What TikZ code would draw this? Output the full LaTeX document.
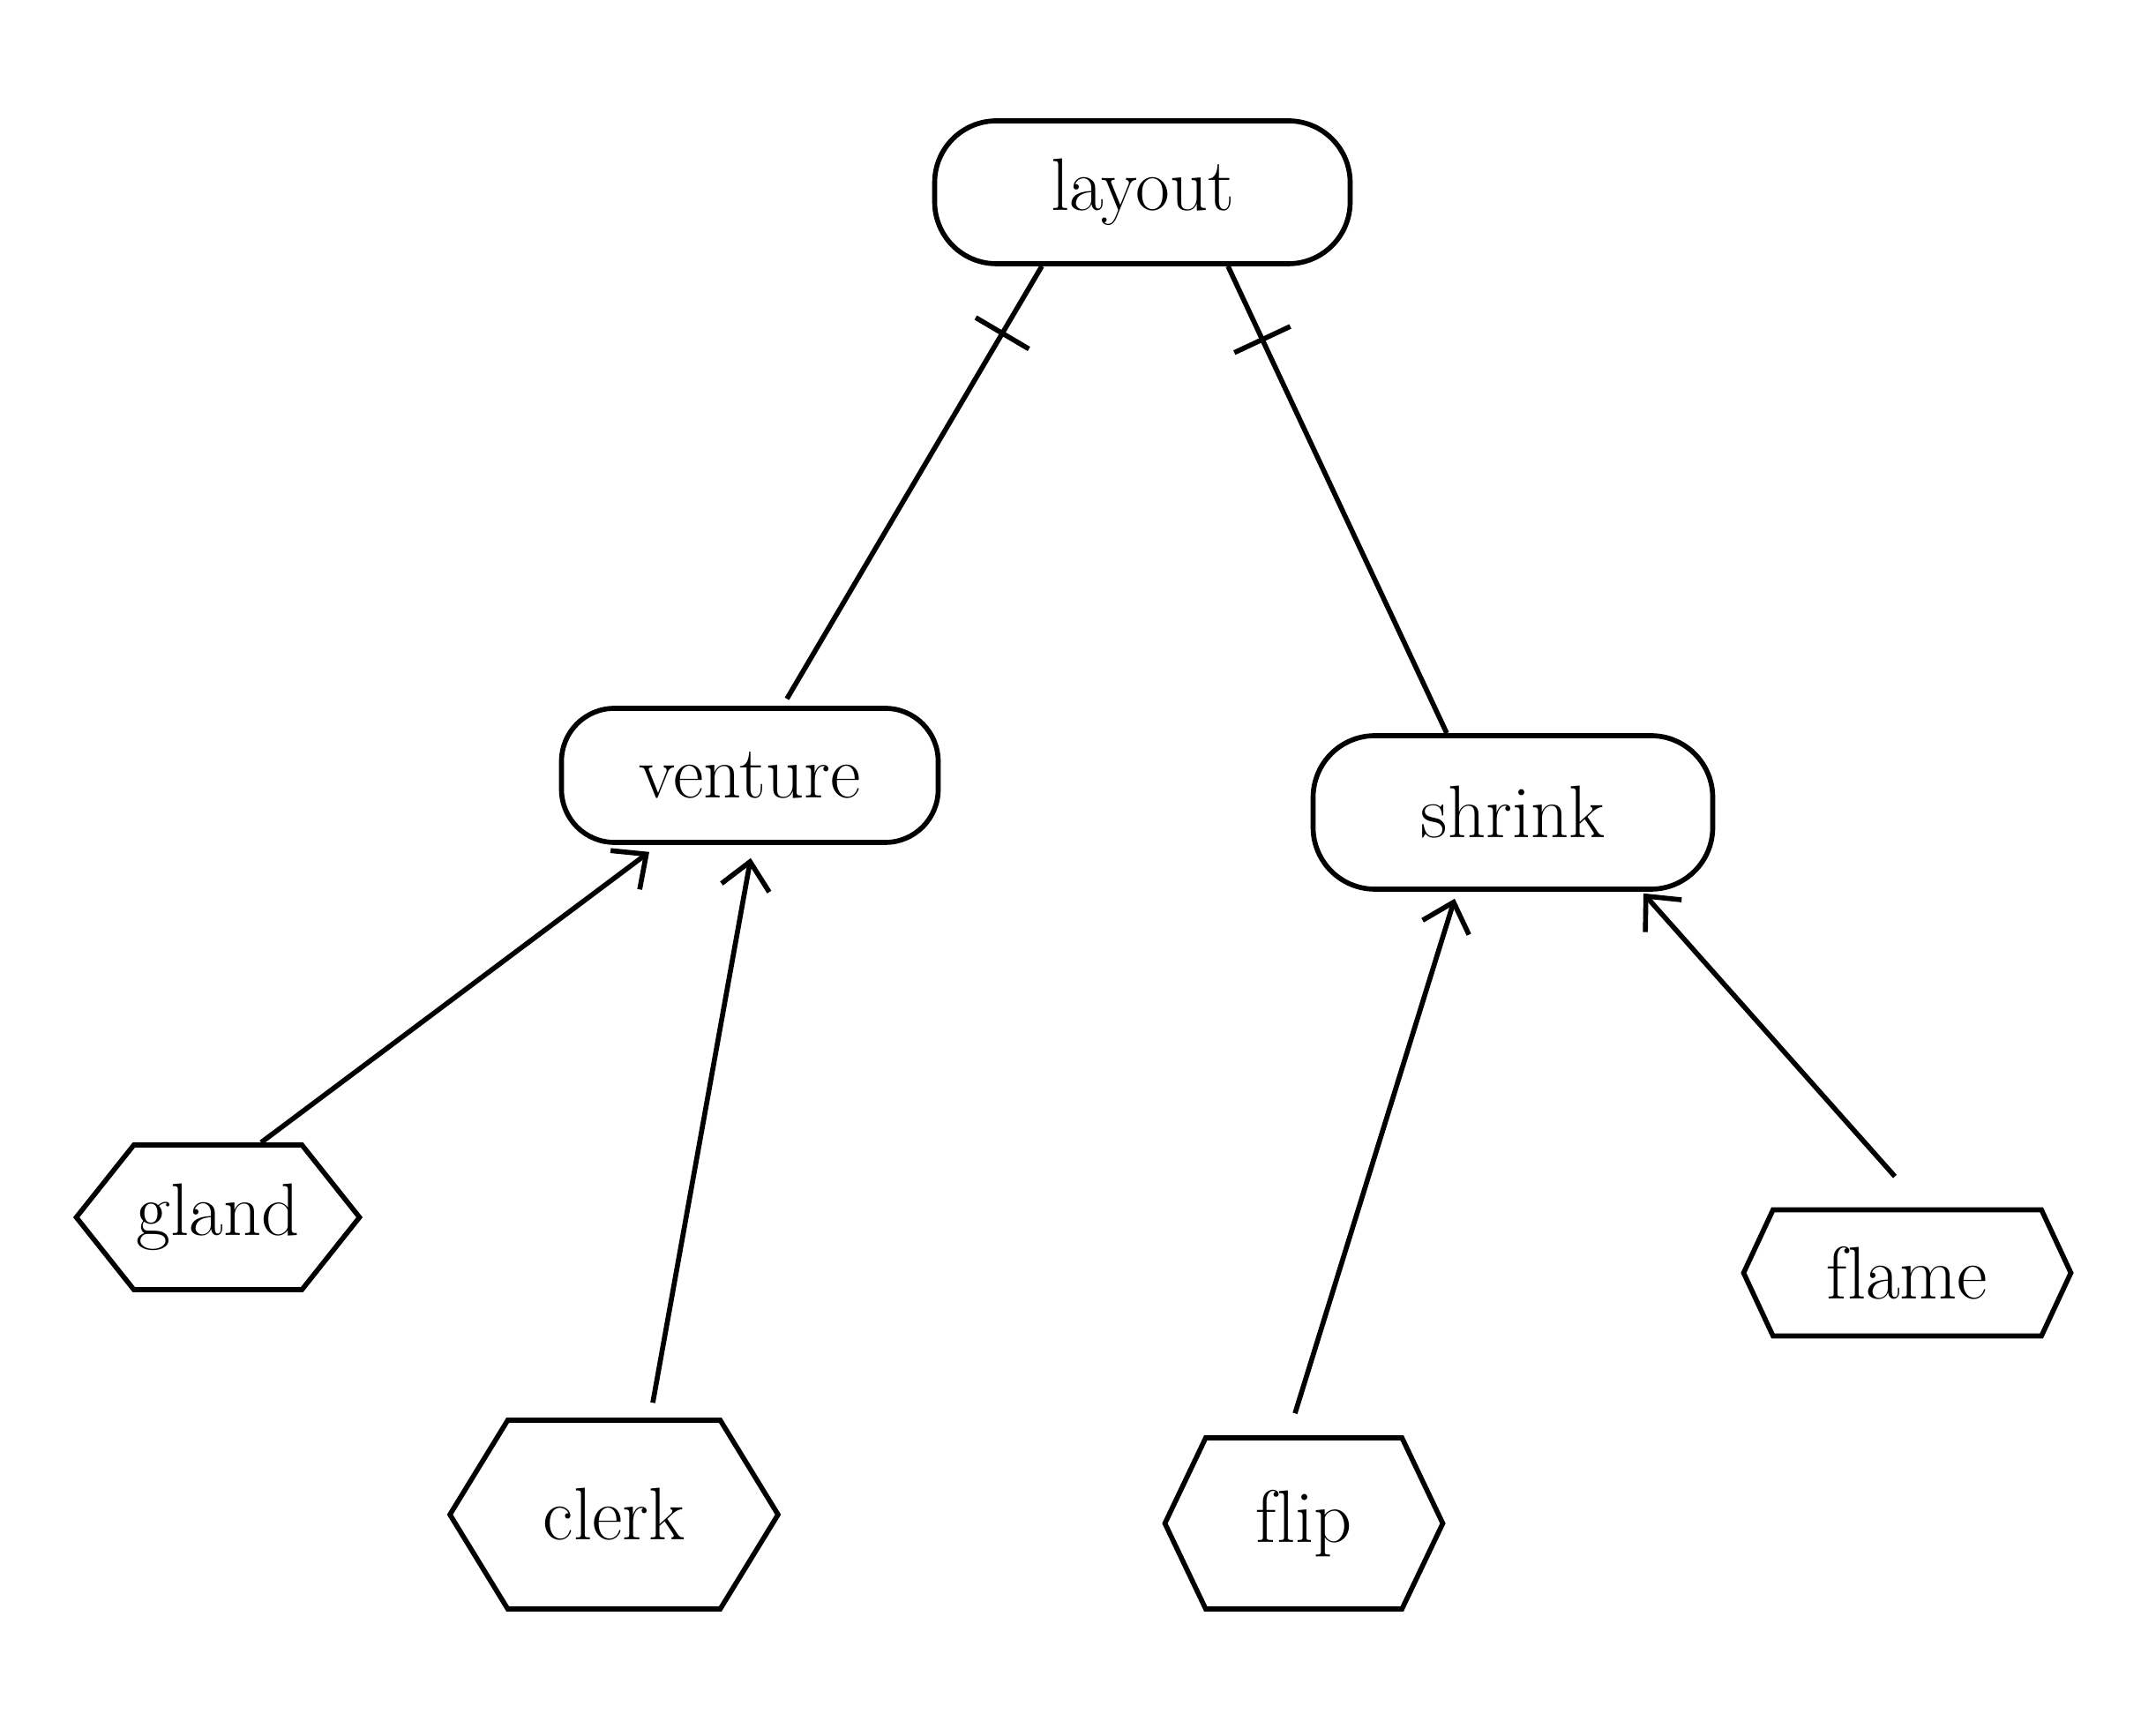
\documentclass[tikz,border=0pt]{standalone}
\usepackage{tikz}
\usetikzlibrary{shapes.symbols,arrows.meta}

\begin{document}
\begin{tikzpicture}[
  line width=1.6pt,
  box/.style={rectangle, draw, rounded corners=0.7cm, font=\fontsize{24}{28}\selectfont},
  hexa/.style={signal, signal to=east and west, draw, inner sep=0pt, font=\fontsize{24}{28}\selectfont},
  arrow/.style={-{Straight Barb[length=0.3cm, width=0.55cm]}},
  bar/.style={sloped, draw, minimum width=0pt, minimum height=0.7cm, inner sep=0pt}
]
  \useasboundingbox (0,0) rectangle (24.44,19.68);

  % rounded terms
  \node (layout) [box, minimum width=4.71cm, minimum height=1.62cm] at (12.95,17.50) {layout};
  \node (venture) [box, rounded corners=0.6cm, minimum width=4.27cm, minimum height=1.52cm] at (8.50,10.89) {venture};
  \node (shrink) [box, minimum width=4.53cm, minimum height=1.74cm] at (17.15,10.47) {shrink};

  % hexagon leaves
  \node (gland) [hexa, signal pointer angle=103, minimum width=3.21cm, minimum height=1.64cm] at (2.47,5.88) {gland};
  \node (clerk) [hexa, signal pointer angle=117, minimum width=3.72cm, minimum height=2.14cm] at (6.96,2.51) {clerk};
  \node (flip) [hexa, signal pointer angle=129, minimum width=3.15cm, minimum height=1.94cm] at (14.78,2.41) {f\kern0pt lip};
  \node (flame) [hexa, signal pointer angle=130, minimum width=3.71cm, minimum height=1.43cm] at (21.62,5.25) {f\kern0pt lame};

  \draw ([xshift=-1.14cm]layout.south) -- node[bar, pos=0.155] {} ([xshift=0.42cm, yshift=0.08cm]venture.north);
  \draw ([xshift=0.97cm]layout.south) -- node[bar, pos=0.157] {} ([xshift=-0.75cm]shrink.north);

  \draw [arrow] ([xshift=0.49cm]gland.north) -- ([xshift=-1.14cm, yshift=-0.08cm]venture.south);
  \draw [arrow] ([xshift=0.44cm, yshift=0.17cm]clerk.north) -- ([xshift=0.01cm, yshift=-0.15cm]venture.south);
  \draw [arrow] ([xshift=-0.10cm, yshift=0.25cm]flip.north) -- ([xshift=-0.66cm, yshift=-0.08cm]shrink.south);
  \draw [arrow] ([xshift=-0.14cm, yshift=0.35cm]flame.north) -- ([xshift=1.48cm, yshift=-0.02cm]shrink.south);
\end{tikzpicture}
\end{document}
